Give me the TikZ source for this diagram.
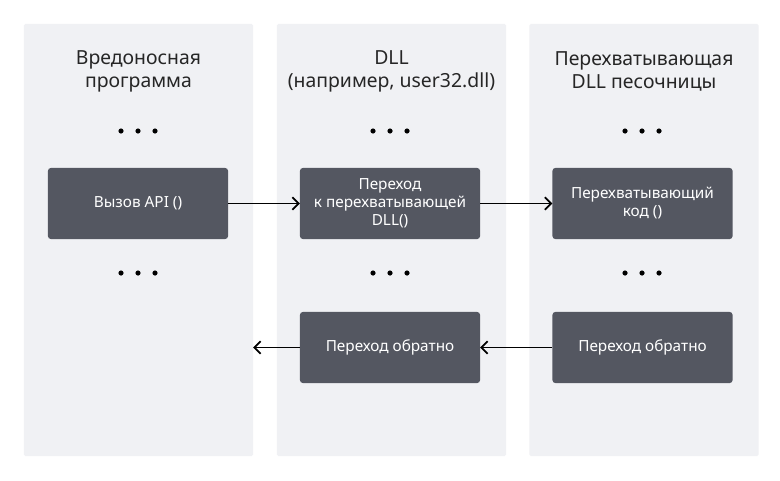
\documentclass[tikz,border=0pt]{standalone}
\usepackage{fontspec}
\setmainfont{Noto Sans}
\usetikzlibrary{positioning,arrows.meta}
\definecolor{panelgray}{HTML}{F0F1F4}
\definecolor{boxgray}{HTML}{545761}

\begin{document}
\begin{tikzpicture}[x=0.025cm,y=-0.025cm,
    panel/.style={fill=panelgray, rounded corners=1pt, minimum width=5.725cm, minimum height=10.8cm, inner sep=0pt, outer sep=0pt},
    title/.style={align=center, text=black!85, font=\fontsize{13.8}{16.4}\selectfont},
    block/.style={fill=boxgray, rounded corners=2pt, text=white, align=center, minimum width=4.5cm, minimum height=1.775cm, inner sep=0pt, outer sep=0pt, font=\fontsize{10.9}{12.8}\selectfont},
    arr/.style={-{Straight Barb[length=4.5pt,width=9pt]}, line width=1.3pt, black}]
    \useasboundingbox[fill=white] (0,0) rectangle (780,480);
    % columns
    \node[panel] (colA) at (138.5,240) {};
    \node[panel] (colB) at (391.5,240) {};
    \node[panel] (colC) at (644,240) {};
    \node[title] (titleA) at (138.5,71.5) {Вредоносная\\программа};
    \node[title] (titleB) at (391.5,71.5) {DLL\\(например, user32.dll)};
    \node[title] (titleC) at (644,71.5) {Перехватывающая\\DLL песочницы};
    % dots
    \foreach \cx in {138,390,642} {
        \foreach \dx in {-17,0,17} {
            \filldraw[black] (\cx+\dx,131) circle (1.6pt);
            \filldraw[black] (\cx+\dx,273) circle (1.6pt);
        }
    }
    % blocks
    \node[block] (callA) at (138,203.5) {Вызов API ()};
    \node[block] (jumpB) at (390,203.5) {Переход\\к перехватывающей\\DLL()};
    \node[block] (hookC) at (642.5,203.5) {Перехватывающий\\код ()};
    \node[block] (backB) at (390,347.5) {Переход обратно};
    \node[block] (backC) at (642.5,347.5) {Переход обратно};
    % arrows
    \draw[arr] (callA) -- (jumpB);
    \draw[arr] (jumpB) -- (hookC);
    \draw[arr] (backC) -- (backB);
    \draw[arr] (backB) -- (backB -| colA.east);
\end{tikzpicture}
\end{document}
